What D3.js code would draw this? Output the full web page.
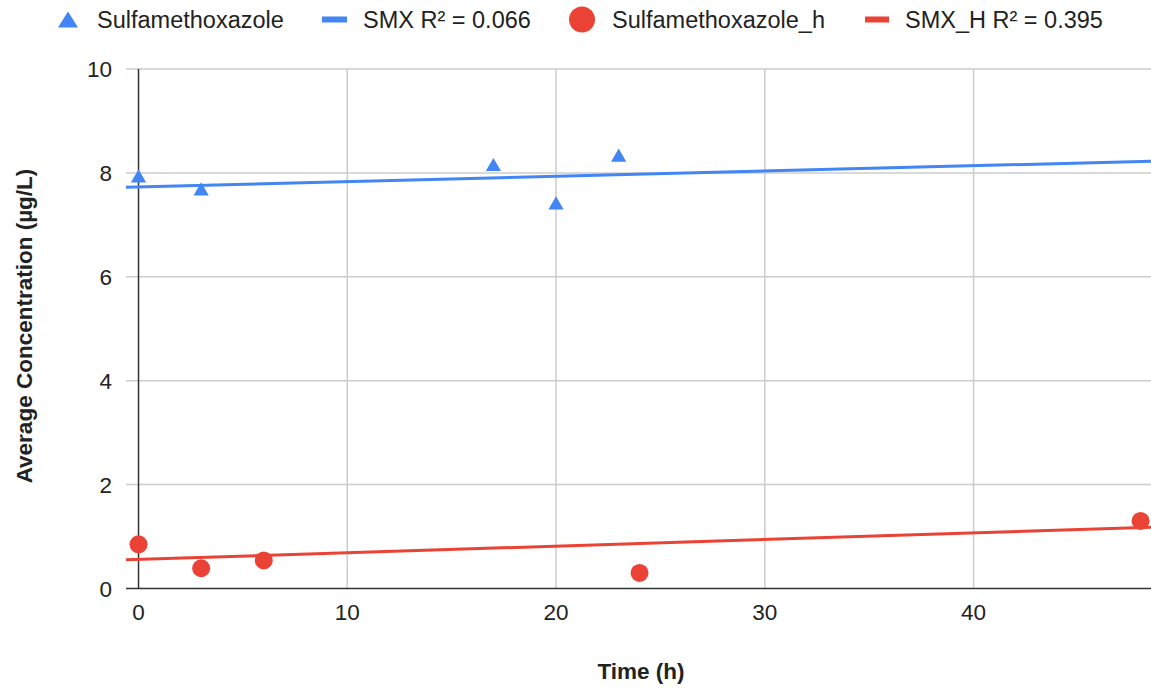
<!DOCTYPE html>
<html>
<head>
<meta charset="utf-8">
<script src="https://cdn.jsdelivr.net/npm/d3@7"></script>
<style>
  body { margin: 0; background: #fff; }
  text { font-family: Arial, "Liberation Sans", sans-serif; }
</style>
</head>
<body>
<svg id="chart" width="1151" height="688"></svg>
<script>
// values
const smxTime = [0, 3, 17, 20, 23]
const smxConc = [7.9, 7.65, 8.12, 7.38, 8.3]
const smxHTime = [0, 3, 6, 24, 48]
const smxHConc = [0.85, 0.39, 0.54, 0.3, 1.3]
// trendline coefficients as drawn in the picture (intercept, slope)
const smxTrend = [7.73, 0.0102]
const smxHTrend = [0.56, 0.0128]
const xTicks = [0, 10, 20, 30, 40]
const yTicks = [0, 2, 4, 6, 8, 10]
const legendLabels = ['Sulfamethoxazole', 'SMX R² = 0.066', 'Sulfamethoxazole_h', 'SMX_H R² = 0.395']

const blue = '#4285F4', red = '#EA4335'
const svg = d3.select('#chart')
const margin = {left: 126, right: 0, top: 69, bottom: 100}
const W = 1151, H = 688

const x = d3.scaleLinear().domain([-0.6, 48.5]).range([margin.left, W - margin.right])
const y = d3.scaleLinear().domain([0, 10]).range([588.5, margin.top])

// grid
const grid = svg.append('g')
grid.selectAll('line.h').data(yTicks.filter(d => d !== 0)).join('line')
  .attr('x1', x.range()[0]).attr('x2', x.range()[1])
  .attr('y1', d => y(d)).attr('y2', d => y(d))
  .attr('stroke', '#cccccc').attr('stroke-width', 1.5)
grid.selectAll('line.v').data(xTicks.filter(d => d !== 0)).join('line')
  .attr('x1', d => x(d)).attr('x2', d => x(d))
  .attr('y1', y(10)).attr('y2', y(0))
  .attr('stroke', '#cccccc').attr('stroke-width', 1.5)

// zero axes
svg.append('line').attr('x1', x.range()[0]).attr('x2', x.range()[1])
  .attr('y1', y(0)).attr('y2', y(0)).attr('stroke', '#333').attr('stroke-width', 1.5)
svg.append('line').attr('x1', x(0)).attr('x2', x(0))
  .attr('y1', y(10)).attr('y2', y(0)).attr('stroke', '#333').attr('stroke-width', 1.5)

// tick labels
svg.append('g').selectAll('text').data(yTicks).join('text')
  .attr('x', 112).attr('y', d => y(d)).attr('dy', '0.36em')
  .attr('text-anchor', 'end').attr('font-size', 22.5).attr('fill', '#222')
  .text(d => d)
svg.append('g').selectAll('text').data(xTicks).join('text')
  .attr('x', d => x(d)).attr('y', 620)
  .attr('text-anchor', 'middle').attr('font-size', 22.5).attr('fill', '#222')
  .text(d => d)

// axis titles
svg.append('text').attr('x', 641).attr('y', 679)
  .attr('text-anchor', 'middle').attr('font-size', 22.5).attr('font-weight', 'bold').attr('fill', '#222')
  .text('Time (h)')
svg.append('text').attr('transform', `translate(32, 326) rotate(-90)`)
  .attr('text-anchor', 'middle').attr('font-size', 22.5).attr('font-weight', 'bold').attr('fill', '#222')
  .text('Average Concentration (µg/L)')

// trendlines
const trend = (c, color) => svg.append('line')
  .attr('x1', x(x.domain()[0])).attr('y1', y(c[0] + c[1] * x.domain()[0]))
  .attr('x2', x(x.domain()[1])).attr('y2', y(c[0] + c[1] * x.domain()[1]))
  .attr('stroke', color).attr('stroke-width', 3)
trend(smxTrend, blue)
trend(smxHTrend, red)

// points
const tri = d3.symbol().type(d3.symbolTriangle).size(100)
svg.append('g').selectAll('path').data(d3.zip(smxTime, smxConc)).join('path')
  .attr('d', tri).attr('transform', d => `translate(${x(d[0])}, ${y(d[1])})`)
  .attr('fill', blue)
svg.append('g').selectAll('circle').data(d3.zip(smxHTime, smxHConc)).join('circle')
  .attr('cx', d => x(d[0])).attr('cy', d => y(d[1])).attr('r', 9)
  .attr('fill', red)

// legend
const ly = 19.5
const lg = svg.append('g').attr('font-size', 23.5).attr('fill', '#222')
lg.append('path').attr('d', 'M0,-8L10,8L-10,8Z')
  .attr('transform', `translate(68, ${ly})`).attr('fill', blue)
lg.append('text').attr('x', 97).attr('y', ly).attr('dy', '0.36em').text(legendLabels[0])
lg.append('rect').attr('x', 322).attr('y', ly - 3).attr('width', 25).attr('height', 6).attr('fill', blue)
lg.append('text').attr('x', 363).attr('y', ly).attr('dy', '0.36em').text(legendLabels[1])
lg.append('circle').attr('cx', 582).attr('cy', ly).attr('r', 13).attr('fill', red)
lg.append('text').attr('x', 612).attr('y', ly).attr('dy', '0.36em').text(legendLabels[2])
lg.append('rect').attr('x', 865).attr('y', ly - 3).attr('width', 24).attr('height', 6).attr('fill', red)
lg.append('text').attr('x', 905).attr('y', ly).attr('dy', '0.36em').text(legendLabels[3])
</script>
</body>
</html>
